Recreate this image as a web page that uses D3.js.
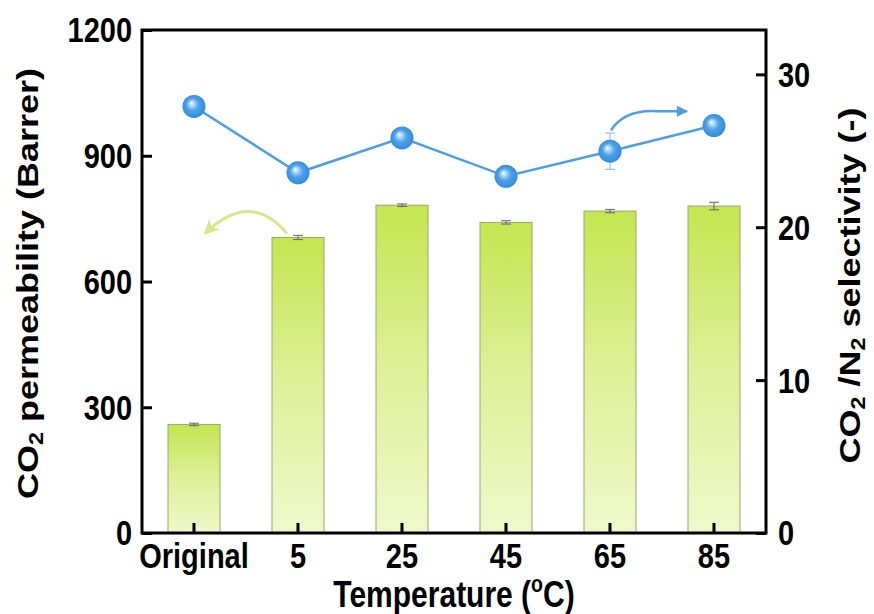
<!DOCTYPE html>
<html>
<head>
<meta charset="utf-8">
<script src="https://cdn.jsdelivr.net/npm/d3@7"></script>
<style>
  html, body { margin: 0; padding: 0; background: #fff; }
  svg text { font-family: "Liberation Sans", Arial, Helvetica, sans-serif; font-weight: bold; fill: #000; }
</style>
</head>
<body>
<svg id="chart" width="874" height="614"></svg>
<script>
// Membrane performance versus treatment temperature
const categories = ["Original", "5", "25", "45", "65", "85"];
const permeability = [259, 705, 782, 741, 768, 780];        // CO2 permeability (Barrer)
const permeabilityErr = [3, 5, 3, 4, 4, 9];
const selectivity = [27.9, 23.56, 25.84, 23.33, 24.97, 26.65]; // CO2/N2 selectivity
const selectivityErr = [0.4, 0.4, 0.4, 0.4, 1.18, 0.4];
const leftTicks = [0, 300, 600, 900, 1200];
const rightTicks = [0, 10, 20, 30];

const W = 874, H = 614;
const m = { left: 142, right: 108, top: 30, bottom: 81 };
const x0 = m.left, x1 = W - m.right, y0 = H - m.bottom, y1 = m.top;
const TEXT_STRETCH = 1.2;
const tickFont = 29, titleFont = 30;

const svg = d3.select("#chart");
const defs = svg.append("defs");

const x = d3.scaleBand().domain(categories).range([x0, x1]).paddingInner(0.5).paddingOuter(0.25);
const yL = d3.scaleLinear().domain([0, 1200]).range([y0, y1]);
const yR = d3.scaleLinear().domain([0, 32.9]).range([y0, y1]);
const cx = c => x(c) + x.bandwidth() / 2;

// bar fill: saturated lime at top fading to pale at the base
const barGrad = defs.append("linearGradient").attr("id", "barGrad")
  .attr("x1", 0).attr("y1", 0).attr("x2", 0).attr("y2", 1);
barGrad.append("stop").attr("offset", "0%").attr("stop-color", "#c5e550");
barGrad.append("stop").attr("offset", "45%").attr("stop-color", "#dcef92");
barGrad.append("stop").attr("offset", "100%").attr("stop-color", "#f0f8cc");

// glossy sphere markers
const ball = defs.append("radialGradient").attr("id", "ball")
  .attr("cx", "50%").attr("cy", "50%").attr("r", "55%").attr("fx", "38%").attr("fy", "35%");
ball.append("stop").attr("offset", "0%").attr("stop-color", "#ffffff");
ball.append("stop").attr("offset", "20%").attr("stop-color", "#aed6f7");
ball.append("stop").attr("offset", "50%").attr("stop-color", "#4aa1ea");
ball.append("stop").attr("offset", "100%").attr("stop-color", "#3087d8");

defs.append("marker").attr("id", "headBlue").attr("viewBox", "0 0 10 10")
  .attr("refX", 9).attr("refY", 5).attr("markerWidth", 5).attr("markerHeight", 4.5)
  .attr("markerUnits", "strokeWidth").attr("orient", "auto")
  .append("path").attr("d", "M0,0 L10,5 L0,10 Z").attr("fill", "#4d9fe3");
defs.append("marker").attr("id", "headGreen").attr("viewBox", "0 0 10 10")
  .attr("refX", 9).attr("refY", 5).attr("markerWidth", 5).attr("markerHeight", 5)
  .attr("markerUnits", "strokeWidth").attr("orient", "auto")
  .append("path").attr("d", "M0,0 L10,5 L0,10 L3,5 Z").attr("fill", "#d3ea88");

// bars
const data = categories.map((c, i) => ({
  c, p: permeability[i], pe: permeabilityErr[i], s: selectivity[i], se: selectivityErr[i]
}));

svg.append("g").selectAll("rect").data(data).join("rect")
  .attr("x", d => x(d.c)).attr("width", x.bandwidth())
  .attr("y", d => yL(d.p)).attr("height", d => yL(0) - yL(d.p))
  .attr("fill", "url(#barGrad)").attr("stroke", "#9aa870").attr("stroke-width", 1);

// bar error bars
const eb = svg.append("g").attr("stroke", "#666").attr("stroke-width", 1).attr("fill", "none");
data.forEach(d => {
  const c = cx(d.c), t = yL(d.p + d.pe), b = yL(d.p - d.pe);
  eb.append("path").attr("d", `M${c},${t}V${b}M${c - 5},${t}H${c + 5}M${c - 5},${b}H${c + 5}`);
});

// selectivity line
svg.append("path").datum(data)
  .attr("d", d3.line().x(d => cx(d.c)).y(d => yR(d.s)))
  .attr("fill", "none").attr("stroke", "#4d9fe3").attr("stroke-width", 2.5);

const seb = svg.append("g").attr("stroke", "#9cc3e6").attr("stroke-width", 1.2).attr("fill", "none");
data.forEach(d => {
  const c = cx(d.c), t = yR(d.s + d.se), b = yR(d.s - d.se);
  seb.append("path").attr("d", `M${c},${t}V${b}M${c - 5},${t}H${c + 5}M${c - 5},${b}H${c + 5}`);
});

svg.append("g").selectAll("circle").data(data).join("circle")
  .attr("cx", d => cx(d.c)).attr("cy", d => yR(d.s)).attr("r", 11.5)
  .attr("fill", "url(#ball)");

// annotation arrows pointing each series to its axis
{
  const sx = cx("5") - 11, sy = yL(705) - 4;
  const ex = cx("Original") + 11, ey = sy;
  svg.append("path")
    .attr("d", `M${sx},${sy} Q${(sx + ex) / 2 + 4},${sy - 44} ${ex},${ey}`)
    .attr("fill", "none").attr("stroke", "#d3ea88").attr("stroke-width", 3)
    .attr("marker-end", "url(#headGreen)");
}
{
  const sx = cx("65") + 1, sy = yR(24.97) - 21;
  const ex = sx + 76, ey = sy - 19;
  svg.append("path")
    .attr("d", `M${sx},${sy} Q${sx + 14},${ey - 2} ${ex - 30},${ey} L${ex},${ey}`)
    .attr("fill", "none").attr("stroke", "#4d9fe3").attr("stroke-width", 2.5)
    .attr("marker-end", "url(#headBlue)");
}

// axes
const styleTicks = g => {
  g.select(".domain").remove();
  g.selectAll(".tick line").attr("stroke", "#000").attr("stroke-width", 3);
  g.selectAll(".tick text").attr("font-size", tickFont);
};

const gL = svg.append("g").attr("transform", `translate(${x0},0)`)
  .call(d3.axisLeft(yL).tickValues(leftTicks).tickFormat(d3.format("d"))
    .tickSizeInner(-10).tickSizeOuter(0).tickPadding(10))
  .call(styleTicks);
gL.selectAll(".tick text").attr("dy", null).attr("y", 0)
  .attr("dominant-baseline", "central").attr("transform", `scale(1,${TEXT_STRETCH})`);

const gR = svg.append("g").attr("transform", `translate(${x1},0)`)
  .call(d3.axisRight(yR).tickValues(rightTicks).tickFormat(d3.format("d"))
    .tickSizeInner(-10).tickSizeOuter(0).tickPadding(12))
  .call(styleTicks);
gR.selectAll(".tick text").attr("dy", null).attr("y", 0)
  .attr("dominant-baseline", "central").attr("transform", `scale(1,${TEXT_STRETCH})`);

const gB = svg.append("g").attr("transform", `translate(0,${y0})`)
  .call(d3.axisBottom(x).tickSizeInner(-10).tickSizeOuter(0).tickPadding(8))
  .call(styleTicks);
gB.selectAll(".tick text").attr("dy", null).attr("y", 29)
  .attr("transform", `scale(1,${TEXT_STRETCH})`);

// frame
svg.append("rect").attr("x", x0).attr("y", y1).attr("width", x1 - x0).attr("height", y0 - y1)
  .attr("fill", "none").attr("stroke", "#000").attr("stroke-width", 3);

// axis titles
function title(px, py, rotate, parts) {
  const t = svg.append("text")
    .attr("transform", `translate(${px},${py}) scale(1,${TEXT_STRETCH})` + (rotate ? " rotate(-90)" : ""))
    .attr("text-anchor", "middle").attr("font-size", titleFont);
  parts.forEach(([s, kind]) => {
    const sp = t.append("tspan").text(s);
    if (kind === "sub") sp.attr("font-size", titleFont * 0.65).attr("baseline-shift", "-25%");
    if (kind === "sup") sp.attr("font-size", titleFont * 0.65).attr("baseline-shift", "65%");
  });
  return t;
}

title((x0 + x1) / 2, 607, false,
  [["Temperature (", ""], ["o", "sup"], ["C)", ""]]);
title(38, (y0 + y1) / 2 + 2, true,
  [["CO", ""], ["2", "sub"], [" permeability (Barrer)", ""]]);
title(860, (y0 + y1) / 2 + 4, true,
  [["CO", ""], ["2", "sub"], [" /N", ""], ["2", "sub"], [" selectivity (-)", ""]]);
</script>
</body>
</html>
